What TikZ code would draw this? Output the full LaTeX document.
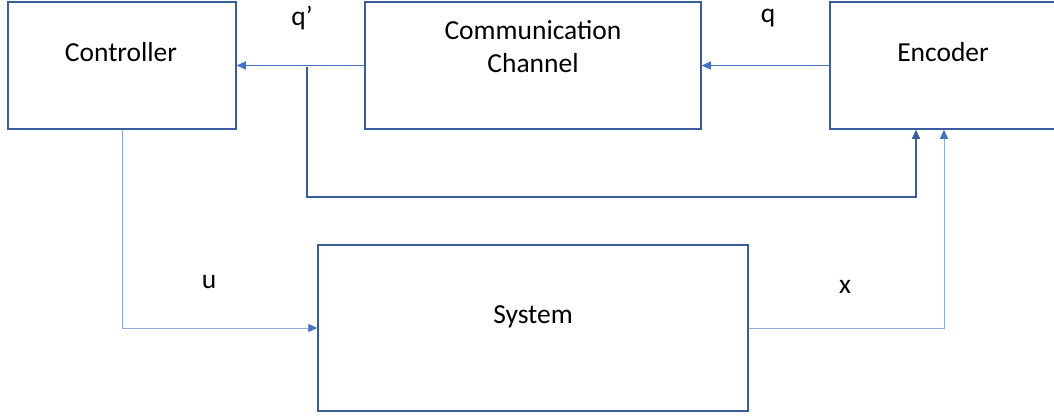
\documentclass[tikz,border=0pt]{standalone}
\usepackage{fontspec}
\setmainfont{Carlito}
\usetikzlibrary{arrows.meta}
\definecolor{boxblue}{HTML}{3A5D9C}
\definecolor{linkblue}{HTML}{4472C4}
\definecolor{paleblue}{HTML}{8FAADC}

\begin{document}
\begin{tikzpicture}[x=1pt,y=-1pt,
        blk/.style={draw=boxblue, line width=1.5pt, minimum height=127pt, inner sep=0pt},
        txt/.style={font=\fontsize{27.5}{33}\selectfont, align=center, inner sep=0pt},
        link/.style={draw=linkblue, line width=0.9pt, -{Triangle[length=9pt,width=8pt]}},
        pale/.style={draw=paleblue, line width=0.9pt, -{Triangle[length=9pt,width=8pt,color=linkblue]}},
        back/.style={link, draw=boxblue, line width=1.5pt}]
        \useasboundingbox (0,0) rectangle (1054,415);

        \node[blk, minimum width=228pt] (ctrl) at (122,65.5) {};
        \node[blk, minimum width=336pt] (chan) at (533,65.5) {};
        \node[blk, minimum width=230pt] (enc) at (945,65.5) {};
        \node[blk, minimum width=430pt, minimum height=166pt] (sys) at (533,328) {};

        \node[txt] (ctrlname) at (121,52) {Controller};
        \node[txt] (channame) at (533,46.5) {Communication\\Channel};
        \node[txt] (encname) at (943,52) {Encoder};
        \node[txt] (sysname) at (533,317) {System};

        \coordinate (split) at (307,67);
        \draw[link] (chan.west) -- (ctrl.east);
        \draw[link] (enc.west) -- (chan.east);
        \draw[back] (split) -- ++(0,130) -| ([xshift=-29pt]enc.south);
        \draw[pale] (ctrl.south) |- (sys.west);
        \draw[pale] (sys.east) -| ([xshift=-1pt]enc.south);

        \node[txt] (qprime) at (302,18) {q’};
        \node[txt] (qlabel) at (768,18) {q};
        \node[txt] (ulabel) at (209,282) {u};
        \node[txt] (xlabel) at (845,287) {x};
\end{tikzpicture}
\end{document}
